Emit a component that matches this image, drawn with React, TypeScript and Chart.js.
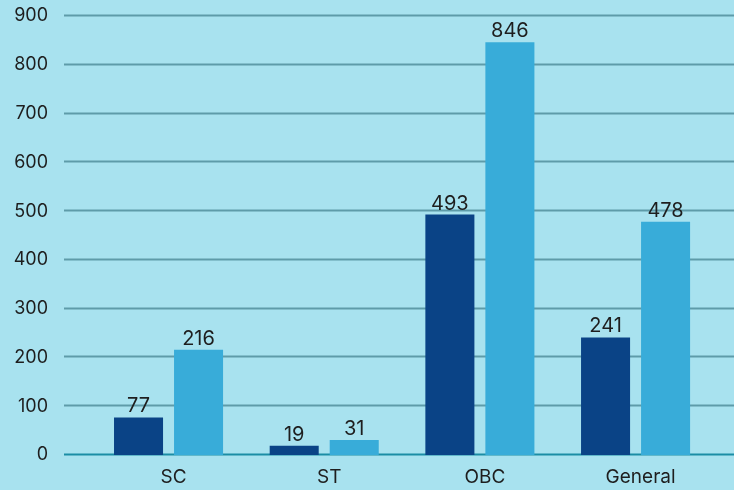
import React, { useEffect, useRef } from "react";
import { Chart, registerables } from "chart.js";

Chart.register(...registerables);

const categories: string[] = ["SC", "ST", "OBC", "General"];
const seriesDark: number[] = [77, 19, 493, 241];
const seriesLight: number[] = [216, 31, 846, 478];
const yMin = 0;
const yMax = 900;
const yStep = 100;

const BG = "#a8e2ef";
const DARK = "#0a4386";
const LIGHT = "#38acd9";
const GRID = "#5e9ba9";
const ZERO = "#1b8da5";
const TEXT = "#1e1e1e";
const FONT = "Inter";

const gridPlugin = {
  id: "fullGrid",
  beforeDatasetsDraw(chart: any) {
    const ctx = chart.ctx;
    const y = chart.scales.y;
    ctx.save();
    y.ticks.forEach((t: any) => {
      const py = Math.round(y.getPixelForValue(t.value)) - 0.5;
      ctx.beginPath();
      ctx.strokeStyle = t.value === 0 ? ZERO : GRID;
      ctx.lineWidth = 2;
      ctx.moveTo(64, py);
      ctx.lineTo(chart.width, py);
      ctx.stroke();
    });
    ctx.restore();
  },
};

const labelPlugin = {
  id: "barLabels",
  afterDatasetsDraw(chart: any) {
    const ctx = chart.ctx;
    ctx.save();
    ctx.fillStyle = TEXT;
    ctx.font = `20px ${FONT}`;
    ctx.textAlign = "center";
    ctx.textBaseline = "alphabetic";
    chart.data.datasets.forEach((ds: any, i: number) => {
      const meta = chart.getDatasetMeta(i);
      meta.data.forEach((bar: any, j: number) => {
        ctx.fillText(String(ds.data[j]), bar.x, bar.y - 5);
      });
    });
    ctx.restore();
  },
};

export default function App() {
  const ref = useRef<HTMLCanvasElement | null>(null);

  useEffect(() => {
    if (!ref.current) return;
    const chart = new Chart(ref.current, {
      type: "bar",
      data: {
        labels: categories,
        datasets: [
          {
            data: seriesDark,
            backgroundColor: DARK,
            barPercentage: 0.817,
            categoryPercentage: 0.771,
          },
          {
            data: seriesLight,
            backgroundColor: LIGHT,
            barPercentage: 0.817,
            categoryPercentage: 0.771,
          },
        ],
      },
      options: {
        animation: false,
        responsive: false,
        layout: {
          autoPadding: false,
          padding: { top: 16, right: 20.6, left: 0, bottom: 0 },
        },
        plugins: {
          legend: { display: false },
          tooltip: { enabled: false },
        },
        scales: {
          x: {
            grid: { display: false, drawTicks: false },
            border: { display: false },
            ticks: {
              color: TEXT,
              font: { family: FONT, size: 19 },
              padding: 11,
              labelOffset: 5,
            },
            afterFit(scale: any) {
              scale.height = 35;
              scale.paddingLeft = 0;
              scale.paddingRight = 0;
            },
          },
          y: {
            min: yMin,
            max: yMax,
            grid: { display: false, drawTicks: false },
            border: { display: false },
            ticks: {
              stepSize: yStep,
              color: TEXT,
              font: { family: FONT, size: 18 },
              padding: 42.7,
            },
            afterFit(scale: any) {
              scale.width = 90.7;
              scale.paddingTop = 0;
              scale.paddingBottom = 0;
            },
          },
        },
      },
      plugins: [gridPlugin, labelPlugin],
    });
    return () => chart.destroy();
  }, []);

  return (
    <div
      style={{
        position: "fixed",
        left: 0,
        top: 0,
        width: 734,
        height: 490,
        background: BG,
      }}
    >
      <canvas ref={ref} width={734} height={490} style={{ display: "block" }} />
    </div>
  );
}
